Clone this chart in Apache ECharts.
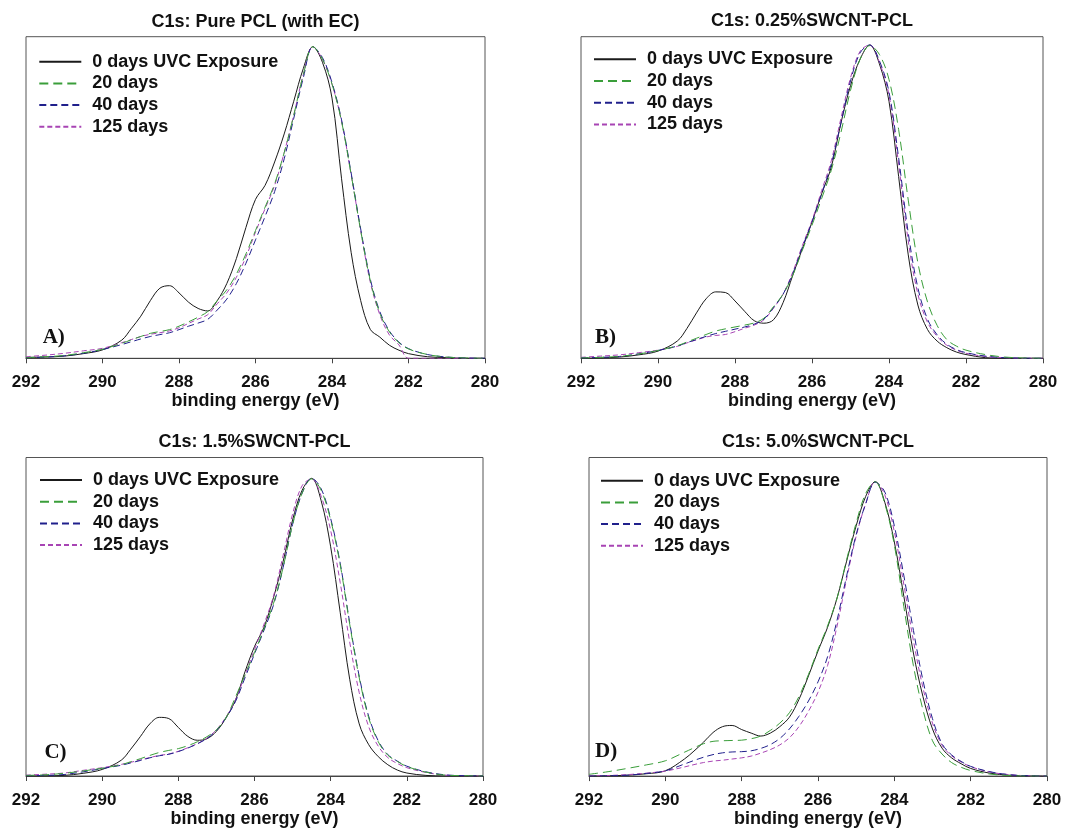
<!DOCTYPE html>
<html>
<head>
<meta charset="utf-8">
<script src="https://cdn.jsdelivr.net/npm/echarts@6/dist/echarts.min.js"></script>
<style>
  html, body { margin: 0; padding: 0; background: #fff; }
  #chart { width: 1065px; height: 829px; }
</style>
</head>
<body>
<div id="chart"></div>
<script>
// Binding energy grid (eV), shared by every spectrum
const energy = [292, 291.5, 291, 290.5, 290, 289.5, 289.25, 289, 288.75, 288.5, 288.25, 288,
  287.75, 287.5, 287.25, 287, 286.75, 286.5, 286.25, 286, 285.75, 285.5, 285.25, 285,
  284.75, 284.5, 284.25, 284, 283.75, 283.5, 283.25, 283, 282.75, 282.5, 282.25, 282,
  281.5, 281, 280.5, 280];

const seriesNames = ['0 days UVC Exposure', '20 days', '40 days', '125 days'];
const xTicks = [292, 290, 288, 286, 284, 282, 280];

// Normalised C1s intensity (% of main peak)
// A) Pure PCL (with EC)
const pclDay0   = [0.3, 0.4, 0.7, 1.5, 2.7, 5.8, 9.5, 13.5, 18.5, 22.5, 23.3, 21, 18, 16, 15.2, 18.5, 24, 32, 42, 51, 55.5, 63, 72, 82.5, 93, 100, 95, 83.5, 57.6, 34, 18.5, 9.3, 6.8, 4.2, 2.6, 1.5, 0.5, 0.2, 0, 0];
const pclDay20  = [0.2, 0.5, 0.9, 1.8, 2.9, 4.8, 5.9, 7.0, 8.0, 8.6, 9.2, 10.3, 11.7, 13.2, 15, 18.5, 22, 27, 33.5, 41, 48.5, 56, 66, 78, 91, 100, 96, 88, 76, 59, 41, 25, 14.5, 8.5, 5, 3, 1.2, 0.4, 0.1, 0];
const pclDay40  = [0.2, 0.4, 0.8, 1.6, 2.8, 4.4, 5.3, 6.2, 7.0, 7.6, 8.2, 9.2, 10.3, 11.3, 12.5, 15.5, 19, 24, 30.5, 38, 45.5, 53.5, 64, 77, 90, 100, 96.5, 88.5, 76.5, 59.5, 41.5, 25.5, 15, 8.8, 5.2, 3.1, 1.2, 0.4, 0.1, 0];
const pclDay125 = [0.5, 1.0, 1.6, 2.4, 3.2, 5.0, 6.0, 7.0, 7.7, 8.2, 8.8, 9.8, 11.2, 12.6, 14, 17.5, 21, 26, 32.5, 40.5, 48, 55.5, 66, 78, 91, 100, 96, 88, 76, 59, 41, 24.5, 14, 7.5, 4.3, 0, 0, 0, 0, 0];

// B) 0.25% SWCNT-PCL
const cnt025Day0   = [0, 0.1, 0.4, 1.1, 2.3, 5.5, 9.5, 14.5, 19, 21.2, 21, 18.3, 15, 12, 11.2, 12.3, 17.8, 26.5, 35, 43.5, 52.5, 61, 75, 87, 95.5, 100, 94, 82, 58, 33, 17, 9.2, 5.5, 3.4, 2, 1.2, 0.2, 0, 0, 0];
const cnt025Day20  = [0.1, 0.3, 0.6, 1.4, 2.5, 4, 5.2, 6.4, 7.6, 8.7, 9.4, 10, 10.6, 11.3, 12.8, 16.5, 20.5, 26.5, 34.5, 42.5, 51, 60, 72, 85.5, 95.5, 99.8, 97, 89, 73, 50.5, 30.5, 18, 10.5, 6, 3.9, 2.6, 1.2, 0.4, 0.1, 0];
const cnt025Day40  = [0.1, 0.3, 0.6, 1.4, 2.5, 3.9, 5.0, 6.0, 7.0, 7.9, 8.6, 9.3, 10, 10.9, 12.5, 16.2, 20.5, 27, 35.5, 43.5, 52.5, 62, 75, 88.5, 97.5, 100, 95, 85, 64, 40, 22.5, 12.5, 7.5, 4.5, 2.8, 1.8, 0.7, 0.2, 0.05, 0];
const cnt025Day125 = [0.3, 0.7, 1.1, 1.8, 2.6, 3.8, 4.9, 5.9, 6.8, 7.3, 7.6, 8.5, 9.6, 10.6, 12.3, 16, 20.5, 27.5, 36, 44, 53.5, 63, 76.5, 89.5, 98, 100, 94.5, 84, 62, 37.5, 20.5, 11.5, 7, 4.2, 2.6, 1.6, 0.6, 0.2, 0, 0];

// C) 1.5% SWCNT-PCL
const cnt15Day0   = [0, 0.05, 0.2, 0.9, 2.2, 5.3, 9, 13.2, 17.5, 19.7, 19.3, 16.3, 13.3, 12, 12.5, 15, 19.5, 25.5, 35, 43.5, 50, 60, 72, 86, 96, 100, 92.5, 77, 55, 32.5, 17.5, 10.5, 6.5, 3.8, 2, 1, 0.2, 0, 0, 0];
const cnt15Day20  = [0.2, 0.4, 0.9, 1.7, 2.6, 3.8, 4.8, 5.8, 6.9, 7.9, 8.6, 9.2, 10.2, 11.5, 13.2, 15.5, 19.5, 26.5, 34, 41.5, 49.5, 58, 70, 84.5, 95, 99.8, 96, 86, 71, 51, 33, 19.5, 11.5, 7, 4.9, 3.2, 1.3, 0.3, 0.1, 0];
const cnt15Day40  = [0.1, 0.2, 0.5, 1.4, 2.5, 3.6, 4.4, 5.2, 6.1, 6.8, 7.3, 8.2, 9.4, 10.8, 12.6, 15.3, 19.5, 25, 33, 41, 49, 57.5, 70, 84.5, 95, 100, 96.5, 86.5, 71.5, 51.5, 33.5, 20, 11.8, 7.2, 5, 3.3, 1.4, 0.4, 0.1, 0];
const cnt15Day125 = [0.3, 0.6, 1.0, 1.9, 2.8, 3.9, 4.6, 5.4, 6.2, 6.9, 7.4, 8.3, 9.5, 10.9, 12.7, 15.5, 19.8, 25.5, 34, 42.5, 51, 60.5, 74, 88, 97.5, 99.8, 94, 82.5, 65, 45, 28, 16.5, 10, 6.2, 4.2, 2.8, 1.2, 0.3, 0.1, 0];

// D) 5.0% SWCNT-PCL
const cnt50Day0   = [0, 0.1, 0.3, 0.8, 1.8, 5.8, 8.5, 11.5, 14.8, 16.8, 17.2, 15.8, 14.6, 13.6, 14.6, 16.8, 20, 26, 34, 42.5, 50.5, 60.5, 73, 85, 95, 100, 93, 79.5, 61, 41.8, 27, 16, 9.5, 6.2, 4.2, 2.6, 1, 0.3, 0.1, 0];
const cnt50Day20  = [0.6, 1.5, 2.6, 3.8, 5.2, 8.1, 9.6, 11, 11.8, 12, 12.1, 12.2, 12.7, 13.6, 15.5, 18, 21.5, 27, 34.5, 43, 51, 60.5, 73.5, 86, 96, 100, 92.5, 78.5, 57.5, 37.5, 22.5, 12, 7.5, 4.6, 3, 1.9, 0.7, 0.2, 0, 0];
const cnt50Day40  = [0, 0.1, 0.3, 0.9, 1.8, 4.1, 5.3, 6.4, 7.3, 7.9, 8.2, 8.3, 8.6, 9.4, 10.7, 12.8, 16, 20.3, 25.5, 32, 40.5, 53, 68, 82, 92.5, 99.8, 96.5, 85, 68, 49.5, 32.5, 19.5, 11, 7.2, 5, 3.3, 1.5, 0.5, 0.1, 0];
const cnt50Day125 = [0.1, 0.2, 0.5, 1, 1.7, 3.1, 3.9, 4.6, 5.1, 5.4, 5.8, 6.2, 6.8, 7.8, 9, 10.6, 13, 16.8, 22, 28.5, 37.5, 51, 67, 81.5, 92.5, 100, 95.5, 83, 65, 46, 30, 18, 10.5, 6.9, 4.8, 3.2, 1.4, 0.5, 0.1, 0];

// Line styles for the four exposure times
const lineStyles = [
  { color: '#1a1a1a', width: 1, type: 'solid' },
  { color: '#3a9e3a', width: 1, type: [9, 5] },
  { color: '#20208c', width: 1, type: [7, 4] },
  { color: '#a844b4', width: 1, type: [5, 3] }
];

const FONT = '"Liberation Sans", Arial, sans-serif';

const panels = [
  { title: 'C1s: Pure PCL (with EC)', tag: 'A)', values: [pclDay0, pclDay20, pclDay40, pclDay125],
    grid: { left: 26, top: 36.7, width: 459, height: 321.6 }, ymax: 103.2,
    titleY: 13.5, legend: { left: 38.3, top: 51.7 }, tagPos: [42.7, 338] },
  { title: 'C1s: 0.25%SWCNT-PCL', tag: 'B)', values: [cnt025Day0, cnt025Day20, cnt025Day40, cnt025Day125],
    grid: { left: 581, top: 36.7, width: 462, height: 321.6 }, ymax: 102.65,
    titleY: 12, legend: { left: 593, top: 49.3 }, tagPos: [595, 338] },
  { title: 'C1s: 1.5%SWCNT-PCL', tag: 'C)', values: [cnt15Day0, cnt15Day20, cnt15Day40, cnt15Day125],
    grid: { left: 26, top: 457.5, width: 457, height: 318.5 }, ymax: 107,
    titleY: 433, legend: { left: 39, top: 470 }, tagPos: [44.4, 753] },
  { title: 'C1s: 5.0%SWCNT-PCL', tag: 'D)', values: [cnt50Day0, cnt50Day20, cnt50Day40, cnt50Day125],
    grid: { left: 589, top: 457.5, width: 458, height: 319 }, ymax: 108.2,
    titleY: 433, legend: { left: 600, top: 470.7 }, tagPos: [595, 752] }
];

const option = {
  backgroundColor: '#fff',
  animation: false,
  title: [], grid: [], xAxis: [], yAxis: [], legend: [], series: [], graphic: []
};

panels.forEach((p, i) => {
  option.grid.push(Object.assign({ show: true, borderColor: '#555', borderWidth: 1, backgroundColor: 'transparent' }, p.grid));
  option.title.push({
    text: p.title,
    left: p.grid.left + p.grid.width / 2,
    top: p.titleY,
    textAlign: 'center',
    padding: 0,
    textStyle: { fontFamily: FONT, fontWeight: 'bold', fontSize: 18, color: '#111' }
  });
  option.xAxis.push({
    type: 'value', gridIndex: i, min: 280, max: 292, interval: 2, inverse: true,
    name: 'binding energy (eV)', nameLocation: 'middle', nameGap: 33,
    nameTextStyle: { fontFamily: FONT, fontWeight: 'bold', fontSize: 18, color: '#111' },
    axisLine: { show: true, onZero: false, lineStyle: { color: '#444', width: 1 } },
    axisTick: { show: true, inside: false, length: 5, lineStyle: { color: '#444' } },
    axisLabel: { margin: 16, fontFamily: FONT, fontWeight: 'bold', fontSize: 17, color: '#111',
      formatter: v => (xTicks.indexOf(v) >= 0 ? String(v) : '') },
    splitLine: { show: false }
  });
  option.yAxis.push({
    type: 'value', gridIndex: i, min: 0, max: p.ymax,
    axisLine: { show: false }, axisTick: { show: false }, axisLabel: { show: false }, splitLine: { show: false }
  });
  option.legend.push({
    orient: 'vertical', left: p.legend.left, top: p.legend.top, padding: 0,
    itemWidth: 42, itemHeight: 10, itemGap: 1.7, selectedMode: false,
    data: seriesNames,
    itemStyle: { opacity: 0 },
    textStyle: { fontFamily: FONT, fontWeight: 'bold', fontSize: 18, lineHeight: 20, color: '#111', padding: [0, 0, 0, 6] }
  });
  p.values.forEach((vals, k) => {
    option.series.push({
      name: seriesNames[k], type: 'line', xAxisIndex: i, yAxisIndex: i,
      data: energy.map((e, j) => [e, vals[j]]),
      smooth: 0.35, showSymbol: false, symbol: 'none',
      lineStyle: lineStyles[k], itemStyle: { color: lineStyles[k].color },
      z: 2 + (k === 0 ? 0 : 4 - k)
    });
  });
  option.graphic.push({
    type: 'text', x: p.tagPos[0], y: p.tagPos[1],
    style: { text: p.tag, font: 'bold 21px "Liberation Serif", "Times New Roman", serif', fill: '#111', verticalAlign: 'middle' }
  });
});

const chart = echarts.init(document.getElementById('chart'), null, { renderer: 'canvas' });
chart.setOption(option);
</script>
</body>
</html>
